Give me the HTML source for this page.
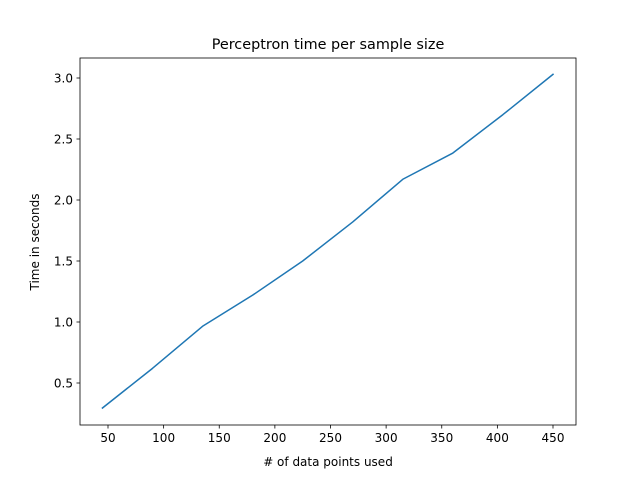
<!DOCTYPE html>
<html><head><meta charset="utf-8"><style>
html,body{margin:0;padding:0;background:#fff;}
svg{display:block;font-family:"DejaVu Sans","Liberation Sans",sans-serif;}
</style></head><body>
<svg id="chart" width="640" height="478" viewBox="0 0 640 478">
<rect x="0" y="0" width="640" height="478" fill="#fff"/>
<text x="328" y="49" text-anchor="middle" font-size="14.4" fill="#000">Perceptron time per sample size</text>
<g id="axes"></g>
<text x="328" y="466" text-anchor="middle" font-size="12"># of data points used</text>
<text transform="translate(39,242) rotate(-90)" text-anchor="middle" font-size="12">Time in seconds</text>
</svg>
<script>
const sampleSizes = [45, 90, 135, 180, 225, 270, 315, 360, 405, 450];
const timesSeconds = [0.295, 0.62, 0.965, 1.22, 1.50, 1.82, 2.17, 2.385, 2.70, 3.03];
const xTicks = [50, 100, 150, 200, 250, 300, 350, 400, 450];
const yTicks = [0.5, 1.0, 1.5, 2.0, 2.5, 3.0];
const yTickLabels = ["0.5", "1.0", "1.5", "2.0", "2.5", "3.0"];

const L = 80, R = 576, T = 58, B = 425;
function xs(v) { return 108 + (v - 50) * (445 / 400); }
function ys(v) { return 383 - (v - 0.5) * (305 / 2.5); }

const NS = "http://www.w3.org/2000/svg";
const g = document.getElementById("axes");
function mk(tag, attrs) {
  const e = document.createElementNS(NS, tag);
  for (const k in attrs) e.setAttribute(k, attrs[k]);
  g.appendChild(e);
  return e;
}

let pts = sampleSizes.map((s, i) => xs(s).toFixed(2) + "," + ys(timesSeconds[i]).toFixed(2)).join(" ");
const line = mk("polyline", {points: pts, fill: "none", stroke: "#1f77b4", "stroke-width": 1.5, "stroke-linejoin": "round", "stroke-linecap": "square"});



const frame = mk("rect", {x: L, y: T, width: R - L, height: B - T, fill: "none", stroke: "#000", "stroke-width": 0.8});



xTicks.forEach(t => {
  const x = xs(t);
  const tk = mk("line", {x1: x, x2: x, y1: B, y2: B + 3.5, stroke: "#000", "stroke-width": 0.8});
  
  
  const lb = mk("text", {x: x, y: B + 17, "text-anchor": "middle", "font-size": 12});
  lb.textContent = String(t);
  
  
});
yTicks.forEach((t, i) => {
  const y = ys(t);
  const tk = mk("line", {x1: L - 3.5, x2: L, y1: y, y2: y, stroke: "#000", "stroke-width": 0.8});
  
  
  const lb = mk("text", {x: L - 7, y: y + 4.5, "text-anchor": "end", "font-size": 12});
  lb.textContent = yTickLabels[i];
  
  
});
</script>
</body></html>
